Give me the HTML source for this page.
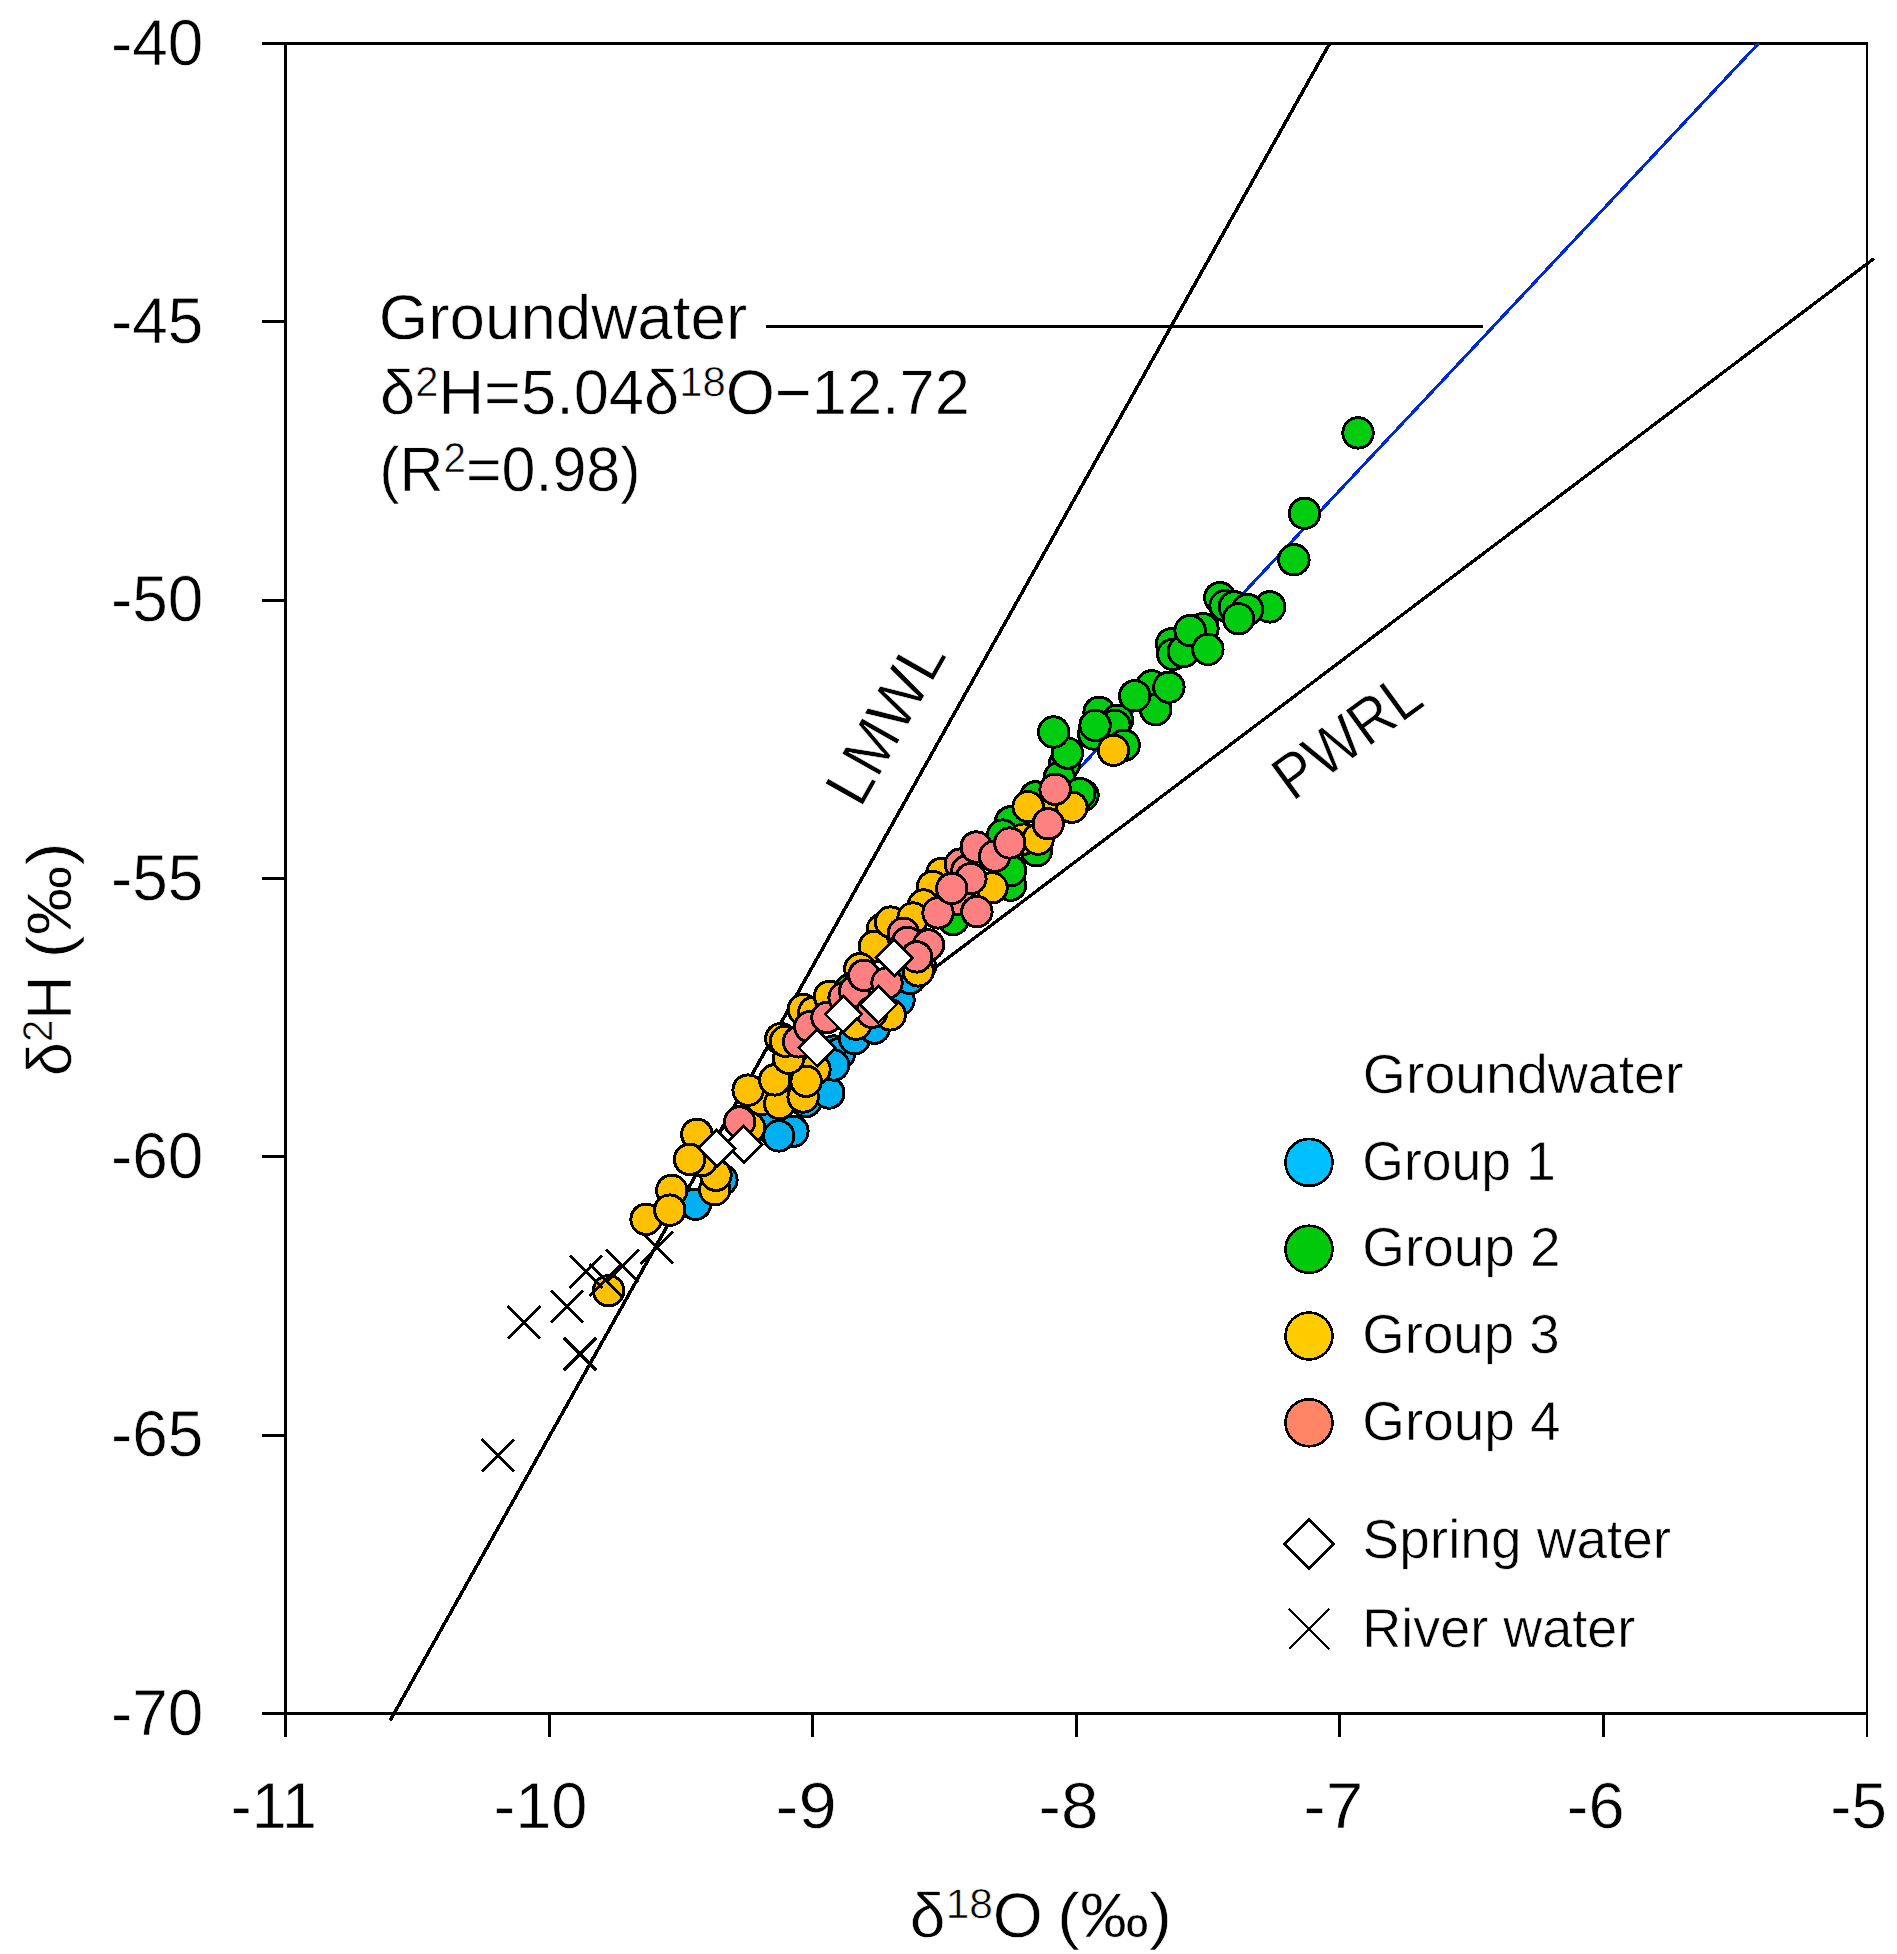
<!DOCTYPE html>
<html lang="en"><head><meta charset="utf-8"><title>Stable isotopes of groundwater, spring water and river water</title>
<style>html,body{margin:0;padding:0;background:#fff}body{width:1897px;height:1954px;overflow:hidden}svg{display:block}text{font-family:'Liberation Sans', 'DejaVu Sans', sans-serif;fill:#000;stroke:#fff;stroke-width:0.6px;text-rendering:geometricPrecision}</style>
</head><body>
<svg width="1897" height="1954" viewBox="0 0 1897 1954">
<rect x="0" y="0" width="1897" height="1954" fill="#ffffff"/>
<g id="axes" fill="#000" shape-rendering="crispEdges">
<rect x="262" y="42" width="1606" height="3"/>
<rect x="262" y="1712" width="1606" height="3"/>
<rect x="284" y="42" width="3" height="1695"/>
<rect x="1866" y="42" width="2" height="1695"/>
<rect x="262" y="320" width="23" height="3"/>
<rect x="262" y="599" width="23" height="3"/>
<rect x="262" y="877" width="23" height="3"/>
<rect x="262" y="1155" width="23" height="3"/>
<rect x="262" y="1434" width="23" height="3"/>
<rect x="548" y="1713" width="3" height="24"/>
<rect x="811" y="1713" width="3" height="24"/>
<rect x="1075" y="1713" width="3" height="24"/>
<rect x="1338" y="1713" width="3" height="24"/>
<rect x="1602" y="1713" width="3" height="24"/>
</g>
<g id="lines" fill="none" stroke-linecap="butt" shape-rendering="crispEdges">
<line x1="1329.7" y1="43.4" x2="390.1" y2="1720.6" stroke="#000" stroke-width="3.5"/>
<line x1="1874" y1="258.5" x2="721" y2="1129.4" stroke="#000" stroke-width="3.3"/>
<line x1="1000" y1="852.9" x2="1758.75" y2="43.2" stroke="#0029D9" stroke-width="3.1"/>
<line x1="766" y1="326.5" x2="1482.7" y2="326.5" stroke="#000" stroke-width="2.2"/>
</g>
<g id="pts" shape-rendering="crispEdges">
<circle cx="608.6" cy="1290.7" r="15.20" fill="#FFC000" stroke="#000" stroke-width="3.0"/>
<path d="M481.7 1439.3L514.1 1471.7M481.7 1471.7L514.1 1439.3" fill="none" stroke="#000" stroke-width="3.0"/>
<path d="M507.7 1306.1L540.1 1338.5M507.7 1338.5L540.1 1306.1" fill="none" stroke="#000" stroke-width="3.0"/>
<path d="M550.8 1290.3L583.2 1322.7M550.8 1322.7L583.2 1290.3" fill="none" stroke="#000" stroke-width="3.0"/>
<path d="M563.8 1337.8L596.2 1370.2M563.8 1370.2L596.2 1337.8" fill="none" stroke="#000" stroke-width="3.0"/>
<path d="M569.8 1255.5L602.2 1287.9M569.8 1287.9L602.2 1255.5" fill="none" stroke="#000" stroke-width="3.0"/>
<path d="M589.6 1263.8L622.0 1296.2M589.6 1296.2L622.0 1263.8" fill="none" stroke="#000" stroke-width="3.0"/>
<path d="M606.3 1249.7L638.7 1282.1M606.3 1282.1L638.7 1249.7" fill="none" stroke="#000" stroke-width="3.0"/>
<path d="M640.7 1231.5L673.1 1263.9M640.7 1263.9L673.1 1231.5" fill="none" stroke="#000" stroke-width="3.0"/>
<circle cx="695.5" cy="1204.2" r="15.20" fill="#00B0F0" stroke="#000" stroke-width="3.0"/>
<circle cx="721.9" cy="1179.8" r="15.20" fill="#00B0F0" stroke="#000" stroke-width="3.0"/>
<circle cx="767.5" cy="1126.0" r="15.20" fill="#00B0F0" stroke="#000" stroke-width="3.0"/>
<circle cx="792.9" cy="1131.3" r="15.20" fill="#00B0F0" stroke="#000" stroke-width="3.0"/>
<circle cx="778.7" cy="1135.9" r="15.20" fill="#00B0F0" stroke="#000" stroke-width="3.0"/>
<circle cx="806.0" cy="1101.5" r="15.20" fill="#00B0F0" stroke="#000" stroke-width="3.0"/>
<circle cx="828.8" cy="1093.0" r="15.20" fill="#00B0F0" stroke="#000" stroke-width="3.0"/>
<circle cx="834.0" cy="1051.0" r="15.20" fill="#00B0F0" stroke="#000" stroke-width="3.0"/>
<circle cx="839.5" cy="1053.5" r="15.20" fill="#00B0F0" stroke="#000" stroke-width="3.0"/>
<circle cx="833.6" cy="1065.0" r="15.20" fill="#00B0F0" stroke="#000" stroke-width="3.0"/>
<circle cx="854.7" cy="1038.6" r="15.20" fill="#00B0F0" stroke="#000" stroke-width="3.0"/>
<circle cx="874.4" cy="1028.1" r="15.20" fill="#00B0F0" stroke="#000" stroke-width="3.0"/>
<circle cx="899.0" cy="1000.0" r="15.20" fill="#00B0F0" stroke="#000" stroke-width="3.0"/>
<circle cx="910.1" cy="978.4" r="15.20" fill="#00B0F0" stroke="#000" stroke-width="3.0"/>
<circle cx="850.0" cy="989.8" r="15.20" fill="#00CC10" stroke="#000" stroke-width="3.0"/>
<circle cx="953.1" cy="919.5" r="15.20" fill="#00CC10" stroke="#000" stroke-width="3.0"/>
<circle cx="1064.5" cy="764.0" r="15.20" fill="#00CC10" stroke="#000" stroke-width="3.0"/>
<circle cx="1059.3" cy="777.6" r="15.20" fill="#00CC10" stroke="#000" stroke-width="3.0"/>
<circle cx="1083.0" cy="795.3" r="15.20" fill="#00CC10" stroke="#000" stroke-width="3.0"/>
<circle cx="1079.8" cy="793.5" r="15.20" fill="#00CC10" stroke="#000" stroke-width="3.0"/>
<circle cx="1035.5" cy="796.9" r="15.20" fill="#00CC10" stroke="#000" stroke-width="3.0"/>
<circle cx="1010.5" cy="821.9" r="15.20" fill="#00CC10" stroke="#000" stroke-width="3.0"/>
<circle cx="1002.6" cy="835.1" r="15.20" fill="#00CC10" stroke="#000" stroke-width="3.0"/>
<circle cx="1036.3" cy="850.7" r="15.20" fill="#00CC10" stroke="#000" stroke-width="3.0"/>
<circle cx="1010.5" cy="885.2" r="15.20" fill="#00CC10" stroke="#000" stroke-width="3.0"/>
<circle cx="1010.5" cy="870.7" r="15.20" fill="#00CC10" stroke="#000" stroke-width="3.0"/>
<circle cx="1067.4" cy="753.1" r="15.20" fill="#00CC10" stroke="#000" stroke-width="3.0"/>
<circle cx="1053.6" cy="732.0" r="15.20" fill="#00CC10" stroke="#000" stroke-width="3.0"/>
<circle cx="1099.1" cy="712.3" r="15.20" fill="#00CC10" stroke="#000" stroke-width="3.0"/>
<circle cx="1093.8" cy="734.0" r="15.20" fill="#00CC10" stroke="#000" stroke-width="3.0"/>
<circle cx="1117.5" cy="720.2" r="15.20" fill="#00CC10" stroke="#000" stroke-width="3.0"/>
<circle cx="1114.9" cy="725.4" r="15.20" fill="#00CC10" stroke="#000" stroke-width="3.0"/>
<circle cx="1124.1" cy="745.2" r="15.20" fill="#00CC10" stroke="#000" stroke-width="3.0"/>
<circle cx="1095.1" cy="725.4" r="15.20" fill="#00CC10" stroke="#000" stroke-width="3.0"/>
<circle cx="1151.8" cy="685.9" r="15.20" fill="#00CC10" stroke="#000" stroke-width="3.0"/>
<circle cx="1155.7" cy="709.6" r="15.20" fill="#00CC10" stroke="#000" stroke-width="3.0"/>
<circle cx="1134.7" cy="695.8" r="15.20" fill="#00CC10" stroke="#000" stroke-width="3.0"/>
<circle cx="1168.9" cy="687.2" r="15.20" fill="#00CC10" stroke="#000" stroke-width="3.0"/>
<circle cx="1171.6" cy="643.7" r="15.20" fill="#00CC10" stroke="#000" stroke-width="3.0"/>
<circle cx="1172.9" cy="654.3" r="15.20" fill="#00CC10" stroke="#000" stroke-width="3.0"/>
<circle cx="1183.4" cy="651.6" r="15.20" fill="#00CC10" stroke="#000" stroke-width="3.0"/>
<circle cx="1203.0" cy="628.6" r="15.20" fill="#00CC10" stroke="#000" stroke-width="3.0"/>
<circle cx="1190.1" cy="630.6" r="15.20" fill="#00CC10" stroke="#000" stroke-width="3.0"/>
<circle cx="1207.9" cy="649.4" r="15.20" fill="#00CC10" stroke="#000" stroke-width="3.0"/>
<circle cx="1219.8" cy="597.7" r="15.20" fill="#00CC10" stroke="#000" stroke-width="3.0"/>
<circle cx="1225.1" cy="605.6" r="15.20" fill="#00CC10" stroke="#000" stroke-width="3.0"/>
<circle cx="1234.3" cy="606.9" r="15.20" fill="#00CC10" stroke="#000" stroke-width="3.0"/>
<circle cx="1269.7" cy="606.9" r="15.20" fill="#00CC10" stroke="#000" stroke-width="3.0"/>
<circle cx="1247.5" cy="609.5" r="15.20" fill="#00CC10" stroke="#000" stroke-width="3.0"/>
<circle cx="1238.5" cy="618.7" r="15.20" fill="#00CC10" stroke="#000" stroke-width="3.0"/>
<circle cx="1293.9" cy="559.7" r="15.20" fill="#00CC10" stroke="#000" stroke-width="3.0"/>
<circle cx="1304.5" cy="513.3" r="15.20" fill="#00CC10" stroke="#000" stroke-width="3.0"/>
<circle cx="1358.0" cy="432.9" r="15.20" fill="#00CC10" stroke="#000" stroke-width="3.0"/>
<circle cx="646.1" cy="1219.3" r="15.20" fill="#FFC000" stroke="#000" stroke-width="3.0"/>
<circle cx="671.8" cy="1190.4" r="15.20" fill="#FFC000" stroke="#000" stroke-width="3.0"/>
<circle cx="669.8" cy="1210.1" r="15.20" fill="#FFC000" stroke="#000" stroke-width="3.0"/>
<circle cx="714.7" cy="1189.7" r="15.20" fill="#FFC000" stroke="#000" stroke-width="3.0"/>
<circle cx="716.0" cy="1175.2" r="15.20" fill="#FFC000" stroke="#000" stroke-width="3.0"/>
<circle cx="701.5" cy="1160.7" r="15.20" fill="#FFC000" stroke="#000" stroke-width="3.0"/>
<circle cx="696.9" cy="1134.3" r="15.20" fill="#FFC000" stroke="#000" stroke-width="3.0"/>
<circle cx="689.6" cy="1159.4" r="15.20" fill="#FFC000" stroke="#000" stroke-width="3.0"/>
<circle cx="749.6" cy="1127.8" r="15.20" fill="#FFC000" stroke="#000" stroke-width="3.0"/>
<circle cx="761.5" cy="1099.6" r="15.20" fill="#FFC000" stroke="#000" stroke-width="3.0"/>
<circle cx="748.1" cy="1090.1" r="15.20" fill="#FFC000" stroke="#000" stroke-width="3.0"/>
<circle cx="779.7" cy="1103.6" r="15.20" fill="#FFC000" stroke="#000" stroke-width="3.0"/>
<circle cx="803.1" cy="1097.0" r="15.20" fill="#FFC000" stroke="#000" stroke-width="3.0"/>
<circle cx="815.0" cy="1069.4" r="15.20" fill="#FFC000" stroke="#000" stroke-width="3.0"/>
<circle cx="774.7" cy="1079.9" r="15.20" fill="#FFC000" stroke="#000" stroke-width="3.0"/>
<circle cx="806.1" cy="1081.2" r="15.20" fill="#FFC000" stroke="#000" stroke-width="3.0"/>
<circle cx="788.6" cy="1058.2" r="15.20" fill="#FFC000" stroke="#000" stroke-width="3.0"/>
<circle cx="780.9" cy="1038.6" r="15.20" fill="#FFC000" stroke="#000" stroke-width="3.0"/>
<circle cx="785.5" cy="1041.2" r="15.20" fill="#FFC000" stroke="#000" stroke-width="3.0"/>
<circle cx="803.3" cy="1009.6" r="15.20" fill="#FFC000" stroke="#000" stroke-width="3.0"/>
<circle cx="813.8" cy="1012.3" r="15.20" fill="#FFC000" stroke="#000" stroke-width="3.0"/>
<circle cx="829.6" cy="996.4" r="15.20" fill="#FFC000" stroke="#000" stroke-width="3.0"/>
<circle cx="856.0" cy="1024.1" r="15.20" fill="#FFC000" stroke="#000" stroke-width="3.0"/>
<circle cx="890.2" cy="1014.9" r="15.20" fill="#FFC000" stroke="#000" stroke-width="3.0"/>
<circle cx="882.3" cy="929.2" r="15.20" fill="#FFC000" stroke="#000" stroke-width="3.0"/>
<circle cx="874.4" cy="946.4" r="15.20" fill="#FFC000" stroke="#000" stroke-width="3.0"/>
<circle cx="859.9" cy="968.8" r="15.20" fill="#FFC000" stroke="#000" stroke-width="3.0"/>
<circle cx="920.5" cy="966.1" r="15.20" fill="#FFC000" stroke="#000" stroke-width="3.0"/>
<circle cx="1023.6" cy="839.1" r="15.20" fill="#FFC000" stroke="#000" stroke-width="3.0"/>
<circle cx="1038.1" cy="839.1" r="15.20" fill="#FFC000" stroke="#000" stroke-width="3.0"/>
<circle cx="1050.0" cy="808.0" r="15.20" fill="#FFC000" stroke="#000" stroke-width="3.0"/>
<circle cx="1028.1" cy="806.6" r="15.20" fill="#FFC000" stroke="#000" stroke-width="3.0"/>
<circle cx="1071.9" cy="807.2" r="15.20" fill="#FFC000" stroke="#000" stroke-width="3.0"/>
<circle cx="941.9" cy="873.3" r="15.20" fill="#FFC000" stroke="#000" stroke-width="3.0"/>
<circle cx="992.0" cy="887.8" r="15.20" fill="#FFC000" stroke="#000" stroke-width="3.0"/>
<circle cx="932.7" cy="886.5" r="15.20" fill="#FFC000" stroke="#000" stroke-width="3.0"/>
<circle cx="923.5" cy="905.0" r="15.20" fill="#FFC000" stroke="#000" stroke-width="3.0"/>
<circle cx="890.5" cy="922.1" r="15.20" fill="#FFC000" stroke="#000" stroke-width="3.0"/>
<circle cx="913.0" cy="918.0" r="15.20" fill="#FFC000" stroke="#000" stroke-width="3.0"/>
<circle cx="918.2" cy="970.9" r="15.20" fill="#FFC000" stroke="#000" stroke-width="3.0"/>
<circle cx="1113.5" cy="750.3" r="15.20" fill="#FFC000" stroke="#000" stroke-width="3.0"/>
<circle cx="739.6" cy="1122.0" r="15.20" fill="#FF8080" stroke="#000" stroke-width="3.0"/>
<circle cx="798.5" cy="1041.8" r="15.20" fill="#FF8080" stroke="#000" stroke-width="3.0"/>
<circle cx="809.8" cy="1026.7" r="15.20" fill="#FF8080" stroke="#000" stroke-width="3.0"/>
<circle cx="827.0" cy="1017.5" r="15.20" fill="#FF8080" stroke="#000" stroke-width="3.0"/>
<circle cx="844.1" cy="997.8" r="15.20" fill="#FF8080" stroke="#000" stroke-width="3.0"/>
<circle cx="854.7" cy="991.2" r="15.20" fill="#FF8080" stroke="#000" stroke-width="3.0"/>
<circle cx="863.9" cy="975.4" r="15.20" fill="#FF8080" stroke="#000" stroke-width="3.0"/>
<circle cx="887.0" cy="983.0" r="15.20" fill="#FF8080" stroke="#000" stroke-width="3.0"/>
<circle cx="871.8" cy="1012.3" r="15.20" fill="#FF8080" stroke="#000" stroke-width="3.0"/>
<circle cx="903.4" cy="933.2" r="15.20" fill="#FF8080" stroke="#000" stroke-width="3.0"/>
<circle cx="907.4" cy="942.4" r="15.20" fill="#FF8080" stroke="#000" stroke-width="3.0"/>
<circle cx="928.5" cy="945.0" r="15.20" fill="#FF8080" stroke="#000" stroke-width="3.0"/>
<circle cx="916.6" cy="956.9" r="15.20" fill="#FF8080" stroke="#000" stroke-width="3.0"/>
<circle cx="960.4" cy="864.1" r="15.20" fill="#FF8080" stroke="#000" stroke-width="3.0"/>
<circle cx="967.0" cy="870.7" r="15.20" fill="#FF8080" stroke="#000" stroke-width="3.0"/>
<circle cx="976.2" cy="847.0" r="15.20" fill="#FF8080" stroke="#000" stroke-width="3.0"/>
<circle cx="994.7" cy="856.2" r="15.20" fill="#FF8080" stroke="#000" stroke-width="3.0"/>
<circle cx="1009.8" cy="843.0" r="15.20" fill="#FF8080" stroke="#000" stroke-width="3.0"/>
<circle cx="957.8" cy="899.7" r="15.20" fill="#FF8080" stroke="#000" stroke-width="3.0"/>
<circle cx="970.9" cy="878.6" r="15.20" fill="#FF8080" stroke="#000" stroke-width="3.0"/>
<circle cx="976.9" cy="911.6" r="15.20" fill="#FF8080" stroke="#000" stroke-width="3.0"/>
<circle cx="938.0" cy="912.9" r="15.20" fill="#FF8080" stroke="#000" stroke-width="3.0"/>
<circle cx="951.8" cy="888.5" r="15.20" fill="#FF8080" stroke="#000" stroke-width="3.0"/>
<circle cx="1048.2" cy="823.8" r="15.20" fill="#FF8080" stroke="#000" stroke-width="3.0"/>
<circle cx="1055.1" cy="789.2" r="15.20" fill="#FF8080" stroke="#000" stroke-width="3.0"/>
<path d="M743.6 1125.9L761.9 1144.2L743.6 1162.5L725.3 1144.2Z" fill="#fff" stroke="#000" stroke-width="2.8" stroke-linejoin="miter"/>
<path d="M716.6 1129.9L734.9 1148.2L716.6 1166.5L698.3 1148.2Z" fill="#fff" stroke="#000" stroke-width="2.8" stroke-linejoin="miter"/>
<path d="M817.1 1029.5L835.4 1047.8L817.1 1066.1L798.8 1047.8Z" fill="#fff" stroke="#000" stroke-width="2.8" stroke-linejoin="miter"/>
<path d="M843.5 995.9L861.8 1014.2L843.5 1032.5L825.2 1014.2Z" fill="#fff" stroke="#000" stroke-width="2.8" stroke-linejoin="miter"/>
<path d="M878.4 986.0L896.7 1004.3L878.4 1022.6L860.1 1004.3Z" fill="#fff" stroke="#000" stroke-width="2.8" stroke-linejoin="miter"/>
<path d="M894.2 939.3L912.5 957.6L894.2 975.9L875.9 957.6Z" fill="#fff" stroke="#000" stroke-width="2.8" stroke-linejoin="miter"/>
</g>
<g id="labels">
<text id="yt40" x="111.05" y="64.75" font-size="65" textLength="92.35" lengthAdjust="spacingAndGlyphs">-40</text>
<text id="yt45" x="111.05" y="343.07" font-size="65" textLength="92.35" lengthAdjust="spacingAndGlyphs">-45</text>
<text id="yt50" x="111.05" y="621.40" font-size="65" textLength="92.35" lengthAdjust="spacingAndGlyphs">-50</text>
<text id="yt55" x="111.05" y="899.73" font-size="65" textLength="92.35" lengthAdjust="spacingAndGlyphs">-55</text>
<text id="yt60" x="111.05" y="1178.05" font-size="65" textLength="92.35" lengthAdjust="spacingAndGlyphs">-60</text>
<text id="yt65" x="111.05" y="1456.38" font-size="65" textLength="92.35" lengthAdjust="spacingAndGlyphs">-65</text>
<text id="yt70" x="111.05" y="1734.70" font-size="65" textLength="92.35" lengthAdjust="spacingAndGlyphs">-70</text>
<text id="xt11" x="230.80" y="1827.80" font-size="65" textLength="86.12" lengthAdjust="spacingAndGlyphs">-11</text>
<text id="xt10" x="493.50" y="1827.80" font-size="65" textLength="94.06" lengthAdjust="spacingAndGlyphs">-10</text>
<text id="xt9" x="775.53" y="1827.80" font-size="65" textLength="61.08" lengthAdjust="spacingAndGlyphs">-9</text>
<text id="xt8" x="1038.49" y="1827.80" font-size="65" textLength="59.91" lengthAdjust="spacingAndGlyphs">-8</text>
<text id="xt7" x="1303.28" y="1827.80" font-size="65" textLength="60.06" lengthAdjust="spacingAndGlyphs">-7</text>
<text id="xt6" x="1566.80" y="1827.80" font-size="65" textLength="57.80" lengthAdjust="spacingAndGlyphs">-6</text>
<text id="xt5" x="1830.26" y="1827.80" font-size="65" textLength="56.69" lengthAdjust="spacingAndGlyphs">-5</text>
<text id="xlab" y="1936.50" font-size="63"><tspan x="909.84" textLength="132.99" lengthAdjust="spacingAndGlyphs">δ<tspan font-size="41.6" dy="-18.9">18</tspan><tspan dy="18.9">O</tspan></tspan> <tspan x="1056.92" textLength="115.03" lengthAdjust="spacingAndGlyphs">(‰)</tspan></text>
<text id="ylab" y="1075.90" font-size="63" transform="rotate(-90 71.00 1075.90)"><tspan x="71.00" textLength="100.12" lengthAdjust="spacingAndGlyphs">δ<tspan font-size="41.6" dy="-18.9">2</tspan><tspan dy="18.9">H</tspan></tspan> <tspan x="188.46" textLength="116.33" lengthAdjust="spacingAndGlyphs">(‰)</tspan></text>
<text id="an1" x="378.65" y="338.60" font-size="63" textLength="368.57" lengthAdjust="spacingAndGlyphs">Groundwater</text>
<text id="an2" x="379.99" y="414.40" font-size="63" textLength="589.94" lengthAdjust="spacingAndGlyphs">δ<tspan font-size="41.6" dy="-18.9">2</tspan><tspan dy="18.9">H=5.04δ</tspan><tspan font-size="41.6" dy="-18.9">18</tspan><tspan dy="18.9">O−12.72</tspan></text>
<text id="an3" x="379.13" y="491.00" font-size="63" textLength="261.46" lengthAdjust="spacingAndGlyphs">(R<tspan font-size="41.6" dy="-18.9">2</tspan><tspan dy="18.9">=0.98)</tspan></text>
<text id="lmwl" x="860.62" y="809.13" font-size="63" textLength="176.83" lengthAdjust="spacingAndGlyphs" transform="rotate(-60.6 860.62 809.13)">LMWL</text>
<text id="pwrl" x="1292.51" y="802.28" font-size="63" textLength="165.91" lengthAdjust="spacingAndGlyphs" transform="rotate(-36 1292.51 802.28)">PWRL</text>
<text id="lg0" x="1362.77" y="1092.70" font-size="55" textLength="320.69" lengthAdjust="spacingAndGlyphs">Groundwater</text>
<text id="lg1" x="1362.28" y="1179.50" font-size="55" textLength="193.48" lengthAdjust="spacingAndGlyphs">Group 1</text>
<text id="lg2" x="1362.20" y="1266.45" font-size="55" textLength="198.43" lengthAdjust="spacingAndGlyphs">Group 2</text>
<text id="lg3" x="1362.22" y="1353.40" font-size="55" textLength="197.50" lengthAdjust="spacingAndGlyphs">Group 3</text>
<text id="lg4" x="1362.20" y="1440.35" font-size="55" textLength="198.43" lengthAdjust="spacingAndGlyphs">Group 4</text>
<text id="lg5" x="1362.60" y="1558.30" font-size="55" textLength="308.56" lengthAdjust="spacingAndGlyphs">Spring water</text>
<text id="lg6" x="1362.29" y="1646.80" font-size="55" textLength="272.91" lengthAdjust="spacingAndGlyphs">River water</text>
</g>
<g id="legend" shape-rendering="crispEdges">
<circle cx="1309.0" cy="1162.4" r="23.45" fill="#00BFFF" stroke="#000" stroke-width="2.7"/>
<circle cx="1309.0" cy="1249.2" r="23.45" fill="#00C80A" stroke="#000" stroke-width="2.7"/>
<circle cx="1309.0" cy="1336.0" r="23.45" fill="#FFCC00" stroke="#000" stroke-width="2.7"/>
<circle cx="1309.0" cy="1422.8" r="23.45" fill="#FF8566" stroke="#000" stroke-width="2.7"/>
<path d="M1309.1 1519.2L1333.9 1544.0L1309.1 1568.8L1284.3 1544.0Z" fill="#fff" stroke="#000" stroke-width="2.8" stroke-linejoin="miter"/>
<path d="M1288.9 1608.5L1329.3 1648.9M1288.9 1648.9L1329.3 1608.5" fill="none" stroke="#000" stroke-width="2.2"/>
</g>
</svg></body></html>
